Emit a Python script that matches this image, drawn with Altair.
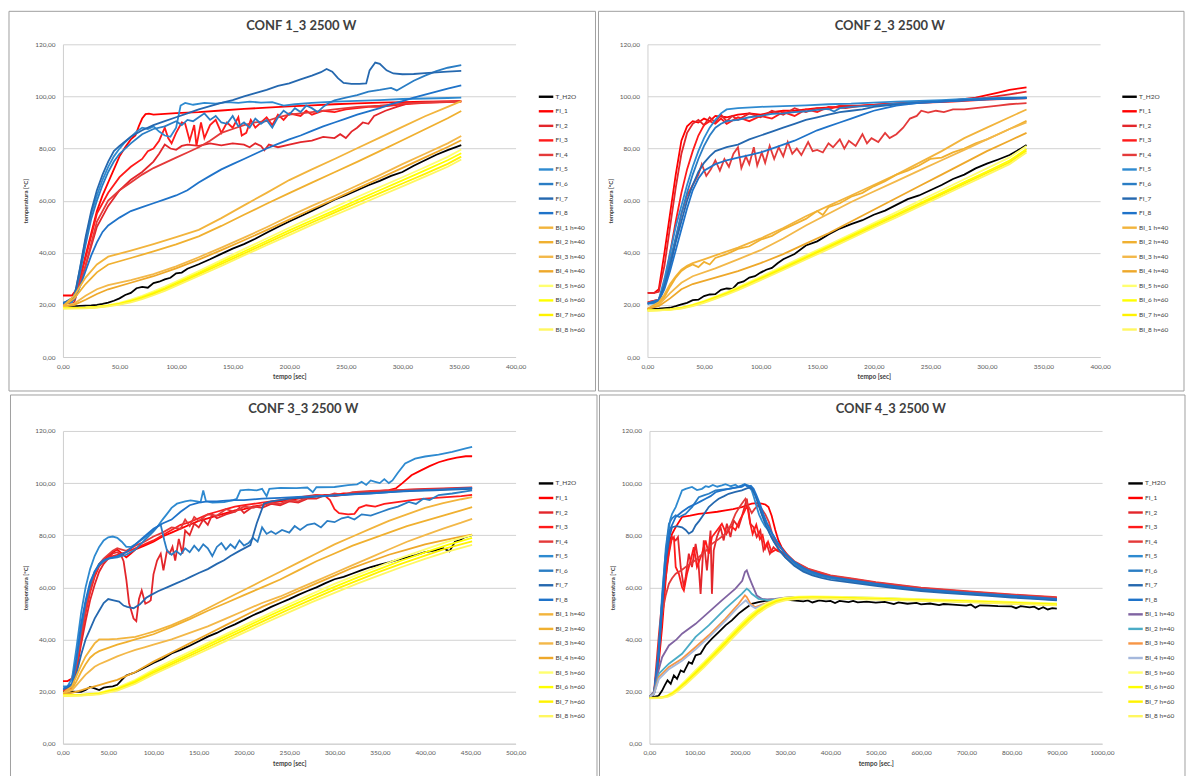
import altair as alt
import pandas as pd

# Series names, in legend / drawing order
SERIES = ["T_H2O", "FI_1", "FI_2", "FI_3", "FI_4", "FI_5", "FI_6", "FI_7", "FI_8",
          "BI_1 h=40", "BI_2 h=40", "BI_3 h=40", "BI_4 h=40",
          "BI_5 h=60", "BI_6 h=60", "BI_7 h=60", "BI_8 h=60"]

COLORS = ["#000000",
          "#FF0000", "#E3262B", "#FF1A1A", "#E43A3A",
          "#2E8AD0", "#2A7DC4", "#2568AF", "#1F73C9",
          "#F2B43C", "#F0B030", "#F3B849", "#EEA82A",
          "#FFFF70", "#FFFF00", "#FFF200", "#FFF760"]

COLORS_4 = ["#000000",
            "#FF0000", "#E3262B", "#FF1A1A", "#E43A3A",
            "#2E8AD0", "#2A7DC4", "#2568AF", "#1F73C9",
            "#8064A2", "#4BACC6", "#F79646", "#A5B8DC",
            "#FFFF70", "#FFFF00", "#FFF200", "#FFF760"]

Y_TICKS = [0, 20, 40, 60, 80, 100, 120]

# ---------------- CONF 1_3 ----------------
G1 = [0, 10, 20, 30, 40, 60, 80, 100, 120, 140, 160, 180, 200, 220, 240, 260, 280, 300, 320, 340, 352]
GY1 = [0, 20, 30, 40, 50, 60, 70, 80, 90, 100, 120, 140, 160, 180, 200, 220, 240, 260, 280, 300, 320, 340, 352]

P1 = {
    "T_H2O": ([0, 5, 10, 15, 20, 25, 30, 35, 40, 45, 50, 55, 60, 65, 70, 75, 80, 85, 90, 95, 100, 105, 110,
               120, 130, 140, 150, 160, 170, 180, 190, 200, 210, 220, 230, 240, 250, 260, 270, 280, 290, 300,
               310, 320, 330, 340, 352],
              [19.6, 19.5, 19.4, 19.6, 19.7, 19.8, 20.0, 20.4, 20.9, 21.6, 22.5, 23.8, 24.6, 26.4, 26.9, 26.6,
               28.4, 28.9, 29.8, 30.4, 32.1, 32.4, 33.9, 35.6, 37.5, 39.6, 41.6, 43.3, 45.4, 47.7, 49.9, 52.0,
               54.0, 56.1, 58.2, 60.4, 62.1, 64.0, 65.9, 67.6, 69.5, 71.0, 73.4, 75.5, 77.6, 79.4, 81.3]),
    "FI_1": ([0, 5, 8, 12, 16, 20, 25, 30, 35, 40, 45, 50, 55, 60, 64, 67, 70, 73, 76, 80, 90, 100, 120, 140,
              160, 180, 200, 220, 240, 260, 280, 300, 320, 340, 352],
             [23.6, 23.6, 23.6, 26.0, 32.0, 39.0, 47.5, 56.0, 62.0, 67.0, 72.0, 77.0, 80.5, 83.5, 85.0, 88.5,
              91.5, 93.2, 93.4, 93.0, 93.3, 93.6, 94.0, 94.6, 95.2, 95.7, 96.2, 96.6, 97.0, 97.3, 97.6, 97.8,
              98.0, 98.1, 98.2]),
    "FI_2": ([0, 10, 20, 30, 40, 50, 60, 70, 80, 85, 90, 95, 100, 105, 110, 120, 130, 140, 150, 160, 165, 170,
              175, 178, 182, 190, 200, 210, 220, 230, 240, 245, 250, 255, 260, 265, 270, 275, 285, 295, 305,
              320, 335, 352],
             [20.3, 21.0, 35.0, 50.0, 58.0, 64.0, 68.0, 71.0, 75.0, 78.0, 81.5, 80.0, 79.5, 81.0, 81.5, 81.0,
              82.0, 81.2, 82.0, 81.5, 80.5, 82.0, 81.0, 79.3, 81.5, 80.5, 81.5, 82.5, 83.0, 84.5, 84.0, 85.5,
              84.0, 86.5, 88.0, 90.0, 89.5, 92.5, 94.5, 96.0, 97.3, 97.8, 98.0, 98.2]),
    "FI_3": ([0, 10, 20, 30, 40, 50, 60, 70, 75, 80, 85, 90, 93, 96, 100, 105, 108, 112, 116, 118, 122, 125,
              130, 135, 140, 145, 150, 155, 158, 162, 166, 170, 175, 180, 185, 190, 195, 200, 210, 215, 220,
              230, 240, 250, 260, 270, 280, 290, 300, 320, 352],
             [20.5, 22.0, 38.0, 55.0, 63.0, 69.0, 73.0, 76.0, 79.0, 80.0, 83.0, 88.0, 84.0, 82.0, 86.0, 90.0,
              89.5, 83.0, 89.0, 81.0, 90.0, 84.0, 89.0, 91.0, 86.0, 90.0, 88.0, 92.0, 85.0, 86.0, 91.0, 88.0,
              90.0, 92.0, 89.0, 93.0, 91.0, 93.5, 92.5, 94.5, 93.0, 94.5, 94.0, 95.0, 95.5, 96.0, 96.0, 96.5,
              97.0, 97.5, 98.0]),
    "FI_4": ([0, 10, 20, 30, 40, 50, 60, 70, 80, 90, 100, 110, 120, 130, 140, 150, 160, 170, 180, 190, 200,
              220, 240, 260, 280, 300, 320, 340, 352],
             [20.0, 22.0, 35.0, 52.0, 60.0, 64.0, 67.0, 70.0, 72.5, 74.5, 76.5, 78.5, 80.5, 83.0, 86.0, 87.5,
              89.0, 90.0, 90.5, 92.0, 93.0, 94.0, 95.0, 96.0, 96.5, 97.2, 97.6, 97.9, 98.0]),
    "FI_5": ([0, 5, 8, 12, 16, 20, 25, 30, 35, 40, 45, 50, 55, 60, 65, 70, 75, 80, 85, 90, 95, 100, 104, 108,
              115, 125, 135, 145, 155, 165, 175, 185, 195, 205, 220, 240, 260, 280, 300, 320, 340, 352],
             [20.9, 20.9, 21.0, 27.0, 36.0, 45.0, 55.0, 62.0, 68.0, 73.0, 77.0, 80.0, 82.5, 84.5, 86.5, 88.0,
              87.5, 88.5, 86.5, 85.0, 84.5, 88.0, 96.5, 97.5, 96.8, 97.5, 97.2, 97.8, 97.5, 98.0, 97.6, 97.8,
              96.5, 97.0, 97.5, 98.0, 98.3, 98.6, 99.0, 99.2, 99.4, 99.5]),
    "FI_6": ([0, 10, 15, 20, 25, 30, 35, 40, 45, 50, 60, 70, 80, 90, 100, 105, 110, 115, 120, 125, 130, 135,
              140, 145, 150, 155, 160, 165, 170, 175, 180, 185, 190, 195, 200, 205, 210, 215, 220, 225, 230,
              235, 240, 250, 260, 270, 280, 290, 295, 300, 310, 320, 330, 340, 352],
             [20.5, 23.0, 32.0, 43.0, 53.0, 60.0, 66.0, 71.0, 75.0, 78.0, 82.0, 85.5, 87.5, 88.5, 90.5, 89.0,
              91.0, 90.5, 92.0, 93.5, 91.0, 92.5, 90.0, 89.5, 92.5, 88.5, 90.0, 88.0, 91.5, 89.5, 91.0, 88.0,
              92.0, 94.5, 93.0, 95.5, 94.0, 96.5, 95.5, 94.0, 96.0, 97.5, 98.5, 99.5, 100.5, 101.8, 102.5,
              103.3, 102.3, 103.5, 106.0, 108.0, 109.7, 111.0, 112.0]),
    "FI_7": ([0, 10, 15, 20, 25, 30, 35, 40, 45, 50, 60, 70, 80, 90, 100, 110, 120, 130, 140, 150, 160, 170,
              180, 190, 200, 210, 220, 228, 233, 238, 243, 248, 255, 262, 268, 271, 276, 280, 286, 292, 300,
              310, 320, 330, 340, 352],
             [20.5, 23.0, 34.0, 46.0, 56.0, 64.0, 70.0, 75.0, 79.0, 81.0, 84.5, 87.0, 89.0, 90.5, 92.0, 93.5,
              95.0, 96.3, 97.5, 98.6, 100.0, 101.3, 102.5, 104.0, 105.0, 106.5, 108.0, 109.3, 110.5, 109.5,
              107.0, 105.2, 104.8, 104.8, 105.0, 110.0, 113.0, 112.5, 110.0, 108.8, 108.5, 108.6, 108.9,
              109.2, 109.5, 109.8]),
    "FI_8": ([0, 5, 10, 15, 20, 25, 30, 35, 40, 50, 60, 70, 80, 90, 100, 110, 120, 130, 140, 150, 160, 170,
              180, 190, 200, 210, 220, 230, 240, 250, 260, 270, 280, 290, 300, 310, 320, 330, 340, 352],
             [20.9, 21.0, 22.0, 27.0, 33.0, 39.0, 44.0, 48.0, 50.5, 53.5, 56.0, 57.5, 59.0, 60.5, 62.0, 64.0,
              67.0, 69.5, 72.0, 74.0, 76.0, 78.0, 80.0, 81.8, 83.5, 85.0, 86.8, 88.5, 90.0, 91.5, 93.0, 94.3,
              95.5, 97.0, 98.2, 99.5, 100.7, 101.8, 103.0, 104.2]),
    "BI_1 h=40": (G1, [19.5, 23.5, 30.5, 35.5, 38.5, 40.8, 43.3, 46.0, 48.8, 53.3, 58.2, 63.0, 67.9, 72.0,
                       76.0, 80.1, 84.2, 88.3, 92.4, 96.0, 98.2]),
    "BI_2 h=40": (G1, [19.4, 22.5, 28.0, 32.5, 35.5, 38.0, 40.5, 43.2, 46.3, 50.3, 54.6, 58.8, 62.9, 66.9,
                       70.9, 74.9, 79.0, 83.2, 87.4, 91.6, 94.4]),
    "BI_3 h=40": (G1, [19.3, 20.5, 23.5, 26.0, 27.6, 29.5, 31.8, 34.8, 38.3, 42.0, 45.8, 49.8, 54.0, 58.0,
                       61.8, 65.8, 69.8, 74.0, 78.0, 82.0, 84.8]),
    "BI_4 h=40": (G1, [19.2, 20.0, 22.0, 24.2, 26.0, 28.5, 31.0, 34.0, 37.4, 41.0, 44.8, 48.7, 52.7, 56.7,
                       60.6, 64.6, 68.6, 72.6, 76.6, 80.6, 83.2]),
    "BI_5 h=60": (GY1, [18.9, 19.0, 19.3, 19.9, 20.8, 22.0, 23.5, 25.2, 27.0, 29.0, 33.0, 37.2, 41.4, 45.5,
                        49.6, 53.6, 57.5, 61.4, 65.2, 69.0, 72.8, 76.8, 79.6]),
    "BI_6 h=60": (GY1, [18.8, 18.9, 19.2, 19.7, 20.5, 21.6, 23.0, 24.6, 26.4, 28.4, 32.3, 36.4, 40.5, 44.5,
                        48.6, 52.5, 56.3, 60.2, 64.0, 67.8, 71.6, 75.5, 78.2]),
    "BI_7 h=60": (GY1, [18.7, 18.8, 19.1, 19.6, 20.3, 21.3, 22.6, 24.2, 25.9, 27.8, 31.7, 35.7, 39.7, 43.7,
                        47.7, 51.6, 55.4, 59.2, 62.9, 66.6, 70.3, 74.1, 76.9]),
    "BI_8 h=60": (GY1, [18.6, 18.7, 19.0, 19.4, 20.1, 21.0, 22.2, 23.7, 25.4, 27.3, 31.1, 35.0, 39.0, 42.9,
                        46.8, 50.7, 54.4, 58.1, 61.8, 65.5, 69.2, 73.0, 75.8]),
}

# ---------------- CONF 2_3 ----------------
GY2 = [0, 10, 20, 30, 40, 50, 60, 70, 80, 100, 120, 140, 160, 180, 200, 220, 240, 260, 280, 300, 320, 335]
GO2 = [0, 10, 15, 20, 25, 30, 35, 40, 50, 60, 80, 100, 120, 140, 160, 180, 200, 220, 240, 260, 280, 300, 320, 335]
GO2B = [0, 10, 20, 30, 40, 60, 80, 100, 120, 140, 160, 180, 200, 220, 240, 260, 280, 300, 320, 335]

P2 = {
    "T_H2O": ([0, 10, 20, 25, 30, 35, 40, 45, 50, 55, 60, 65, 70, 75, 80, 85, 90, 95, 100, 105, 110, 115, 120,
               130, 140, 150, 160, 170, 180, 190, 200, 210, 220, 230, 240, 250, 260, 270, 280, 290, 300, 310,
               320, 330, 335],
              [18.5, 18.6, 18.9, 19.5, 20.2, 20.8, 21.8, 22.0, 23.4, 24.0, 24.1, 25.8, 26.3, 26.1, 28.4, 29.0,
               30.5, 31.0, 32.4, 33.5, 34.2, 36.0, 37.5, 39.5, 42.8, 44.4, 47.0, 49.3, 51.0, 52.5, 54.6, 56.2,
               58.4, 60.6, 62.0, 64.0, 66.0, 68.3, 70.0, 72.4, 74.2, 75.8, 77.5, 80.0, 81.4]),
    "FI_1": ([0, 6, 10, 15, 20, 25, 30, 35, 40, 45, 50, 55, 60, 70, 80, 90, 100, 110, 120, 130, 140, 150, 170,
              190, 210, 230, 250, 270, 290, 300, 310, 320, 335],
             [24.6, 24.6, 26.0, 40.0, 55.0, 70.0, 83.0, 88.5, 90.5, 90.0, 91.5, 90.5, 92.5, 92.0, 93.0, 93.5,
              93.0, 94.0, 94.5, 94.5, 95.0, 95.5, 96.0, 96.5, 97.0, 97.5, 98.0, 98.5, 99.5, 100.5, 101.5,
              102.5, 103.5]),
    "FI_2": ([0, 6, 10, 15, 20, 25, 30, 35, 40, 45, 50, 55, 60, 65, 70, 75, 80, 90, 100, 110, 120, 130, 140,
              150, 160, 170, 190, 210, 230, 250, 270, 290, 300, 320, 335],
             [24.6, 24.6, 25.0, 35.0, 50.0, 65.0, 78.0, 86.0, 89.5, 91.0, 89.0, 92.0, 90.0, 93.0, 90.5, 92.5,
              91.0, 93.5, 92.0, 94.5, 93.0, 95.5, 94.0, 95.5, 95.0, 96.5, 96.5, 97.0, 97.5, 98.0, 98.3, 99.0,
              99.5, 100.8, 101.8]),
    "FI_3": ([0, 10, 15, 20, 25, 30, 35, 40, 45, 50, 55, 60, 65, 70, 80, 90, 100, 110, 120, 130, 140, 150,
              160, 175, 190, 210, 240, 270, 300, 335],
             [21.0, 22.0, 28.0, 40.0, 52.0, 63.0, 72.0, 79.0, 85.0, 89.0, 90.5, 89.5, 91.5, 89.5, 92.0, 90.5,
              92.5, 91.5, 94.0, 92.5, 95.0, 94.0, 96.0, 95.5, 96.5, 97.0, 97.5, 98.0, 98.8, 99.3]),
    "FI_4": ([0, 10, 15, 20, 25, 30, 35, 40, 45, 48, 52, 56, 60, 64, 68, 72, 76, 80, 83, 87, 90, 94, 97, 101,
              104, 108, 112, 116, 120, 124, 128, 132, 136, 142, 146, 150, 155, 160, 164, 170, 174, 178, 184,
              190, 194, 198, 204, 210, 214, 220, 226, 232, 238, 242, 248, 255, 262, 270, 280, 290, 300, 310,
              320, 335],
             [21.0, 22.0, 27.0, 35.0, 45.0, 55.0, 62.0, 66.0, 70.0, 74.0, 69.5, 72.0, 75.5, 71.5, 76.0, 73.0,
              78.0, 80.5, 72.5, 77.0, 74.0, 80.5, 73.5, 78.5, 74.5, 81.0, 76.0, 80.5, 77.0, 82.5, 78.0, 80.0,
              77.5, 82.5, 79.0, 79.5, 78.5, 82.0, 80.5, 83.5, 80.0, 83.0, 81.0, 85.5, 82.0, 84.0, 82.5, 86.0,
              84.0, 85.5, 88.0, 91.5, 92.5, 94.5, 93.8, 94.5, 94.0, 95.0, 95.0, 95.5, 96.0, 96.5, 97.0, 97.4]),
    "FI_5": ([0, 6, 10, 15, 20, 25, 30, 35, 40, 45, 50, 55, 60, 65, 70, 80, 100, 120, 140, 160, 180, 200, 220,
              240, 260, 280, 300, 320, 335],
             [20.5, 20.5, 22.0, 30.0, 40.0, 50.0, 58.0, 66.0, 73.0, 79.0, 84.0, 88.0, 91.0, 93.5, 95.0, 95.5,
              96.0, 96.3, 96.6, 97.0, 97.2, 97.6, 98.0, 98.3, 98.6, 99.0, 99.3, 99.5, 99.6]),
    "FI_6": ([0, 10, 15, 20, 25, 30, 35, 40, 45, 50, 55, 60, 65, 70, 80, 90, 100, 110, 120, 130, 140, 150, 160,
              165, 170, 180, 200, 220, 250, 280, 300, 335],
             [20.5, 22.0, 28.0, 37.0, 46.0, 55.0, 63.0, 70.0, 76.0, 81.0, 85.0, 88.0, 89.5, 90.5, 91.0, 92.0,
              92.5, 93.3, 93.5, 94.0, 94.3, 94.8, 95.2, 94.2, 95.5, 96.0, 96.5, 97.2, 98.0, 98.6, 99.0, 99.4]),
    "FI_7": ([0, 10, 15, 20, 25, 30, 35, 40, 45, 50, 55, 60, 70, 80, 90, 100, 110, 120, 130, 140, 150, 160,
              170, 180, 190, 200, 210, 230, 260, 290, 335],
             [20.5, 21.5, 27.0, 35.0, 44.0, 52.0, 60.0, 66.0, 71.0, 74.5, 77.0, 79.0, 80.5, 81.5, 83.5, 85.0,
              86.5, 88.0, 89.5, 91.0, 92.0, 93.0, 94.0, 94.5, 95.0, 96.0, 96.5, 97.2, 98.0, 98.8, 99.5]),
    "FI_8": ([0, 10, 15, 20, 25, 30, 35, 40, 45, 50, 60, 70, 80, 90, 100, 110, 120, 130, 140, 150, 160, 170,
              180, 190, 200, 210, 220, 240, 260, 290, 335],
             [20.5, 21.5, 26.0, 33.0, 41.0, 49.0, 57.0, 64.0, 68.5, 71.5, 74.0, 75.5, 76.5, 77.5, 78.5, 80.0,
              81.5, 83.0, 85.0, 87.0, 88.5, 90.0, 91.5, 93.0, 94.5, 95.5, 96.5, 97.5, 98.0, 98.7, 99.4]),
    "BI_1 h=40": (GO2, [18.5, 21.0, 24.0, 28.0, 31.0, 33.5, 35.0, 36.0, 37.5, 39.0, 42.0, 45.5, 49.5, 54.0,
                        58.0, 62.0, 66.0, 70.0, 74.5, 79.0, 84.0, 88.0, 92.0, 95.0]),
    "BI_2 h=40": ([0, 10, 15, 20, 25, 30, 35, 40, 45, 50, 55, 60, 70, 80, 90, 100, 110, 120, 130, 140, 150,
                   155, 160, 170, 180, 190, 200, 210, 220, 230, 240, 250, 260, 270, 280, 290, 300, 310, 320, 335],
                  [18.5, 20.5, 23.0, 27.0, 30.5, 33.0, 34.5, 35.5, 34.5, 36.5, 35.5, 38.0, 39.5, 41.5, 42.5,
                   45.0, 46.5, 49.0, 51.0, 53.0, 56.0, 54.5, 57.5, 59.0, 61.5, 63.0, 65.5, 67.5, 70.0, 71.5,
                   73.5, 76.0, 76.5, 78.5, 80.0, 82.0, 83.5, 85.5, 87.5, 90.6]),
    "BI_3 h=40": (GO2B, [18.5, 20.0, 24.5, 28.5, 31.0, 34.0, 37.5, 41.0, 45.5, 50.5, 55.0, 59.5, 63.5, 67.5,
                         71.5, 75.5, 79.5, 83.5, 87.5, 90.0]),
    "BI_4 h=40": (GO2B, [18.5, 19.5, 22.5, 26.0, 28.0, 30.5, 33.0, 36.0, 39.5, 43.5, 47.5, 52.0, 56.5, 61.0,
                         65.5, 70.0, 74.5, 79.0, 83.0, 86.0]),
    "BI_5 h=60": (GY2, [18.0, 18.1, 18.4, 19.0, 20.1, 21.6, 23.2, 24.9, 26.8, 30.8, 34.9, 39.0, 43.1, 47.2,
                        51.4, 55.6, 59.8, 64.0, 68.2, 72.4, 76.6, 81.0]),
    "BI_6 h=60": (GY2, [17.9, 18.0, 18.3, 18.9, 19.9, 21.3, 22.9, 24.5, 26.4, 30.3, 34.3, 38.4, 42.5, 46.6,
                        50.7, 54.8, 58.9, 63.0, 67.1, 71.2, 75.4, 79.8]),
    "BI_7 h=60": (GY2, [17.8, 17.9, 18.2, 18.8, 19.7, 21.1, 22.6, 24.2, 26.0, 29.9, 33.8, 37.9, 42.0, 46.0,
                        50.1, 54.2, 58.3, 62.4, 66.5, 70.6, 74.7, 79.2]),
    "BI_8 h=60": (GY2, [17.8, 17.9, 18.1, 18.6, 19.5, 20.8, 22.3, 23.9, 25.7, 29.5, 33.4, 37.4, 41.4, 45.5,
                        49.6, 53.6, 57.7, 61.7, 65.8, 69.9, 74.0, 78.5]),
}

# ---------------- CONF 3_3 ----------------
GO3 = [0, 10, 15, 20, 25, 30, 35, 40, 50, 60, 70, 80, 90, 100, 120, 140, 160, 180, 200, 220, 240, 260, 280,
       300, 320, 340, 360, 380, 400, 420, 440, 452]
GY3 = [0, 20, 40, 60, 80, 100, 125, 150, 175, 200, 225, 250, 275, 300, 325, 350, 375, 400, 425, 452]

P3 = {
    "T_H2O": ([0, 10, 20, 25, 30, 35, 40, 45, 50, 55, 60, 65, 70, 75, 80, 90, 100, 110, 120, 130, 140, 150,
               160, 170, 180, 190, 200, 210, 220, 230, 240, 250, 260, 270, 280, 290, 300, 310, 320, 330, 340,
               350, 360, 370, 380, 390, 400, 410, 420, 427, 433, 438, 444, 452],
              [20.0, 20.0, 19.9, 20.6, 21.8, 21.2, 20.6, 21.5, 21.8, 22.0, 22.6, 24.5, 26.2, 26.8, 27.4, 29.2,
               31.0, 32.5, 34.6, 36.0, 37.6, 39.3, 41.1, 42.5, 44.3, 45.8, 47.5, 49.3, 50.8, 52.5, 54.0, 55.5,
               57.1, 58.6, 60.0, 61.6, 63.1, 64.0, 65.3, 66.6, 67.8, 68.7, 69.6, 70.6, 71.5, 72.4, 73.5, 74.1,
               75.0, 73.8, 77.5, 78.0, 79.3, 80.0]),
    "FI_1": ([0, 5, 10, 15, 20, 25, 30, 35, 40, 45, 50, 55, 60, 65, 70, 75, 80, 90, 100, 110, 120, 130, 140,
              150, 160, 170, 180, 190, 200, 210, 220, 230, 240, 250, 260, 270, 280, 290, 300, 310, 320, 330,
              340, 350, 360, 368, 375, 385, 395, 405, 415, 425, 435, 445, 452],
             [24.0, 24.0, 25.0, 32.0, 42.0, 52.0, 60.0, 65.0, 68.5, 70.5, 72.0, 73.5, 74.5, 73.0, 71.5, 73.0,
              74.5, 76.0, 77.5, 79.5, 81.0, 82.5, 84.0, 85.5, 86.5, 87.5, 88.5, 89.5, 90.0, 91.0, 91.5, 92.5,
              93.0, 93.5, 94.0, 94.5, 95.0, 95.5, 95.5, 96.0, 96.0, 96.5, 96.5, 97.0, 97.3, 98.0, 100.0, 103.0,
              104.8, 106.5, 108.0, 109.0, 109.8, 110.3, 110.3]),
    "FI_2": ([0, 10, 15, 20, 25, 30, 35, 40, 45, 50, 55, 60, 64, 67, 70, 73, 78, 81, 84, 87, 91, 95, 97, 100,
              104, 108, 111, 115, 118, 121, 124, 128, 132, 135, 140, 145, 150, 155, 160, 165, 170, 180, 190,
              195, 200, 210, 220, 230, 240, 250, 260, 270, 280, 290, 300, 310, 320, 340, 360, 380, 400, 420,
              452],
             [20.5, 21.5, 28.0, 38.0, 47.0, 55.0, 61.0, 66.0, 69.0, 71.0, 73.0, 73.5, 72.5, 70.0, 63.0, 54.0,
              48.0, 47.0, 55.5, 58.8, 53.7, 54.5, 55.0, 65.0, 70.3, 72.9, 66.5, 74.2, 73.0, 75.5, 70.3, 78.6,
              72.9, 81.8, 80.0, 84.5, 83.0, 86.0, 84.0, 88.0, 86.5, 88.0, 89.0, 90.5, 88.5, 91.0, 90.5, 92.0,
              91.5, 93.0, 92.5, 94.0, 94.0, 95.5, 95.0, 95.5, 96.0, 96.5, 97.0, 97.5, 97.8, 98.0, 98.3]),
    "FI_3": ([0, 10, 15, 20, 25, 30, 35, 40, 45, 50, 55, 60, 70, 80, 90, 100, 110, 120, 130, 140, 150, 160,
              170, 180, 190, 200, 210, 220, 230, 240, 250, 260, 270, 280, 290, 295, 300, 305, 315, 322, 327,
              335, 345, 355, 365, 375, 385, 400, 420, 440, 452],
             [20.5, 21.5, 29.0, 40.0, 50.0, 58.0, 64.0, 68.0, 70.0, 71.0, 72.0, 72.5, 73.5, 75.0, 76.5, 78.0,
              80.0, 82.0, 84.0, 85.0, 86.5, 88.0, 89.0, 90.0, 91.0, 91.5, 92.0, 92.5, 93.0, 93.5, 94.0, 94.5,
              95.0, 95.5, 95.0, 93.5, 90.0, 88.5, 88.0, 88.2, 90.5, 91.5, 91.0, 92.0, 92.5, 93.0, 93.5, 94.0,
              94.5, 95.0, 95.5]),
    "FI_4": ([0, 10, 15, 20, 25, 30, 35, 40, 45, 50, 55, 60, 65, 70, 80, 90, 100, 110, 120, 130, 135, 140, 145,
              150, 160, 170, 180, 190, 200, 210, 220, 230, 240, 250, 260, 270, 280, 290, 300, 310, 320, 340,
              360, 380, 400, 420, 452],
             [20.5, 22.0, 30.0, 41.0, 51.0, 59.0, 65.0, 69.0, 71.0, 72.5, 74.0, 75.0, 74.5, 74.0, 76.0, 77.5,
              79.5, 81.0, 83.0, 82.5, 86.0, 83.5, 87.0, 85.5, 88.0, 87.5, 90.0, 89.0, 91.0, 90.5, 91.5, 92.5,
              92.0, 93.5, 93.0, 94.5, 95.5, 95.0, 96.0, 95.5, 96.5, 97.0, 97.2, 97.4, 97.6, 97.8, 98.0]),
    "FI_5": ([0, 5, 10, 15, 20, 25, 30, 35, 40, 45, 50, 55, 60, 65, 70, 75, 80, 90, 100, 105, 110, 115, 120,
              126, 135, 141, 148, 152, 155, 158, 165, 178, 188, 192, 196, 205, 214, 220, 225, 228, 240, 258,
              270, 276, 280, 300, 315, 325, 330, 335, 340, 345, 350, 355, 360, 364, 370, 378, 389, 400, 415,
              430, 445, 452],
             [22.0, 22.0, 25.0, 37.0, 50.0, 60.0, 67.0, 72.0, 75.5, 78.0, 79.2, 79.5, 79.0, 77.5, 75.5, 75.5,
              76.5, 79.0, 82.0, 83.5, 86.0, 88.2, 90.5, 92.1, 93.0, 93.4, 93.0, 92.7, 97.2, 93.0, 92.5, 92.7,
              93.5, 94.0, 97.2, 97.5, 97.2, 97.8, 95.0, 97.8, 98.2, 98.1, 98.3, 96.5, 98.4, 98.5, 99.2, 99.5,
              100.5, 99.3, 101.0, 100.5, 100.0, 101.5, 100.0, 101.0, 104.0, 107.5, 109.4, 110.2, 110.9, 112.0,
              113.3, 113.9]),
    "FI_6": ([0, 10, 15, 20, 25, 30, 35, 40, 45, 50, 60, 70, 80, 90, 100, 105, 108, 112, 115, 120, 125, 130,
              135, 140, 145, 150, 155, 160, 165, 170, 175, 180, 185, 190, 195, 200, 205, 210, 215, 220, 225,
              230, 235, 242, 250, 256, 262, 270, 278, 285, 292, 300, 308, 315, 322, 330, 340, 352, 360, 370,
              382, 390, 398, 405, 415, 430, 445, 452],
             [21.0, 22.5, 32.0, 44.0, 54.0, 61.0, 66.0, 68.5, 70.0, 71.0, 71.5, 72.5, 74.5, 78.0, 81.5, 83.5,
              84.0, 78.0, 74.0, 72.5, 74.0, 72.5, 75.0, 73.5, 76.0, 74.0, 76.5, 75.0, 72.0, 75.5, 77.0, 74.5,
              76.5, 75.0, 78.0, 76.0, 77.0, 79.0, 77.5, 83.0, 80.5, 81.5, 80.5, 82.0, 81.0, 83.5, 82.0, 84.0,
              84.5, 83.0, 85.5, 85.0, 86.5, 87.0, 86.0, 88.0, 87.5, 89.0, 90.0, 91.0, 92.8, 92.0, 94.0, 93.5,
              95.4, 96.0, 96.8, 97.2]),
    "FI_7": ([0, 10, 15, 20, 25, 30, 35, 40, 45, 50, 56, 62, 67, 71, 78, 85, 92, 97, 105, 115, 125, 135, 141,
              150, 160, 170, 178, 185, 195, 207, 214, 222, 230, 240, 250, 270, 290, 310, 330, 350, 370, 390,
              410, 430, 452],
             [21.0, 22.0, 27.0, 34.0, 40.0, 44.0, 48.0, 51.0, 54.0, 55.5, 55.0, 54.5, 53.0, 52.5, 52.0, 53.5,
              56.0, 57.0, 58.5, 60.0, 61.5, 63.0, 64.0, 65.5, 67.0, 69.0, 70.4, 72.0, 74.0, 76.2, 84.5, 92.1,
              93.0, 93.5, 94.0, 94.5, 95.0, 95.5, 96.0, 96.3, 96.7, 97.0, 97.2, 97.5, 97.8]),
    "FI_8": ([0, 10, 15, 20, 25, 30, 35, 40, 45, 50, 60, 70, 80, 90, 100, 110, 120, 130, 140, 150, 160, 170,
              180, 190, 200, 220, 240, 260, 280, 300, 320, 340, 360, 380, 400, 420, 440, 452],
             [21.0, 23.0, 33.0, 46.0, 55.0, 62.0, 66.0, 69.0, 70.5, 71.0, 72.0, 73.5, 76.5, 79.5, 82.5, 84.5,
              86.0, 89.0, 91.5, 92.5, 93.0, 93.0, 93.3, 93.5, 93.5, 94.0, 94.3, 94.7, 95.0, 95.3, 95.7, 96.0,
              96.5, 97.0, 97.3, 97.6, 98.0, 98.2]),
    "BI_1 h=40": (GO3, [19.5, 22.0, 26.0, 30.0, 33.5, 36.0, 38.5, 40.0, 40.0, 40.2, 40.6, 41.0, 42.0, 43.0,
                        45.5, 48.5, 52.0, 55.5, 59.0, 62.5, 66.0, 69.5, 73.0, 76.5, 79.5, 82.5, 85.5, 88.0,
                        90.5, 92.3, 93.8, 94.6]),
    "BI_2 h=40": (GO3, [19.3, 21.0, 24.0, 27.5, 30.5, 33.0, 34.5, 35.5, 36.8, 38.0, 39.0, 40.0, 41.0, 42.0,
                        44.8, 47.8, 51.0, 54.0, 57.0, 60.0, 63.0, 66.5, 70.0, 73.0, 76.0, 78.5, 81.0, 83.5,
                        85.5, 87.5, 89.5, 90.8]),
    "BI_3 h=40": (GO3, [19.3, 20.5, 22.5, 24.5, 26.5, 28.0, 29.5, 30.5, 32.0, 33.5, 34.8, 36.0, 37.0, 38.0,
                        40.0, 42.5, 45.0, 48.0, 51.0, 54.0, 56.5, 59.5, 62.5, 65.5, 68.5, 71.5, 74.5, 77.5,
                        80.0, 82.5, 84.8, 86.3]),
    "BI_4 h=40": (GO3, [19.0, 19.5, 20.0, 20.5, 21.0, 21.5, 22.0, 22.5, 23.5, 24.5, 26.0, 27.5, 29.5, 31.5,
                        35.0, 38.5, 42.0, 45.5, 49.0, 52.5, 55.5, 58.5, 61.5, 64.5, 67.5, 70.0, 72.5, 74.5,
                        76.5, 78.0, 79.5, 80.2]),
    "BI_5 h=60": (GY3, [18.6, 18.8, 19.5, 21.5, 24.5, 28.5, 32.8, 37.0, 41.2, 45.4, 49.5, 53.6, 57.5, 61.3,
                        64.8, 68.2, 71.5, 74.6, 77.5, 80.0]),
    "BI_6 h=60": (GY3, [18.5, 18.7, 19.3, 21.1, 24.0, 27.8, 32.0, 36.2, 40.4, 44.5, 48.6, 52.6, 56.5, 60.2,
                        63.7, 67.1, 70.4, 73.4, 76.3, 79.0]),
    "BI_7 h=60": (GY3, [18.4, 18.6, 19.1, 20.8, 23.5, 27.2, 31.3, 35.4, 39.5, 43.6, 47.6, 51.6, 55.4, 59.1,
                        62.6, 66.0, 69.2, 72.2, 75.1, 77.6]),
    "BI_8 h=60": (GY3, [18.3, 18.5, 18.9, 20.4, 23.0, 26.6, 30.6, 34.6, 38.6, 42.6, 46.6, 50.5, 54.3, 57.9,
                        61.4, 64.7, 67.9, 70.9, 73.7, 76.3]),
}

# ---------------- CONF 4_3 ----------------
GY4 = [0, 20, 30, 40, 50, 60, 80, 100, 120, 140, 160, 180, 200, 220, 240, 260, 280, 300, 330, 360, 400, 500,
       600, 700, 800, 900]

P4 = {
    "T_H2O": ([0, 10, 20, 28, 34, 40, 47, 54, 61, 69, 76, 87, 94, 102, 113, 124, 138, 153, 168, 182, 197, 211,
               226, 241, 255, 270, 285, 300, 340, 350, 360, 375, 390, 400, 410, 420, 440, 450, 460, 480, 500,
               520, 540, 550, 570, 590, 600, 620, 640, 650, 670, 700, 710, 720, 730, 750, 770, 800, 810, 820,
               840, 850, 860, 870, 880, 890, 900],
              [18.0, 18.0, 18.3, 20.4, 22.5, 24.3, 23.0, 26.2, 24.9, 28.1, 27.5, 31.3, 30.7, 33.9, 34.5, 37.7,
               40.3, 42.8, 45.4, 47.3, 49.9, 51.8, 53.7, 54.3, 54.8, 55.0, 55.2, 55.3, 54.6, 55.0, 54.2, 55.0,
               54.6, 54.8, 54.0, 54.8, 54.3, 54.8, 54.2, 54.5, 54.1, 54.4, 53.6, 54.2, 53.7, 54.0, 53.5, 53.8,
               53.2, 53.6, 53.4, 53.0, 53.4, 52.2, 53.1, 53.0, 52.8, 52.7, 52.0, 52.8, 52.3, 52.6, 51.6, 52.4,
               51.5, 52.0, 51.8]),
    "FI_1": ([0, 10, 20, 28, 36, 43, 50, 58, 72, 90, 109, 130, 150, 168, 185, 204, 215, 226, 237, 248, 256, 263,
              270, 278, 285, 292, 300, 314, 330, 351, 380, 400, 424, 450, 500, 550, 600, 650, 700, 750, 800, 850,
              900],
             [18.0, 19.0, 30.0, 44.8, 63.0, 76.7, 80.5, 83.1, 87.0, 87.5, 88.2, 88.6, 89.0, 89.5, 90.0, 90.8,
              91.5, 92.1, 92.3, 92.1, 91.8, 90.8, 87.5, 82.0, 78.0, 75.4, 73.5, 70.3, 68.0, 66.5, 64.8, 64.0,
              63.3, 62.6, 61.4, 60.2, 59.2, 58.5, 57.9, 57.3, 56.7, 56.1, 55.5]),
    "FI_2": ([0, 10, 21, 28, 36, 43, 50, 58, 63, 69, 76, 80, 87, 94, 102, 108, 113, 120, 127, 135, 138, 142,
              149, 157, 164, 171, 179, 186, 197, 204, 212, 215, 223, 230, 237, 245, 252, 259, 266, 274, 282,
              290, 300, 320, 350, 400, 450, 500, 600, 700, 800, 900],
             [18.0, 19.5, 42.2, 55.0, 63.9, 72.9, 79.3, 78.0, 79.3, 67.8, 60.1, 64.0, 72.9, 67.8, 76.7, 70.0,
              57.5, 78.0, 66.5, 81.8, 57.5, 74.2, 79.3, 83.1, 78.0, 84.4, 79.3, 85.7, 83.1, 87.0, 92.1, 94.0,
              84.4, 83.1, 79.3, 81.8, 74.2, 76.7, 72.9, 75.4, 74.0, 73.5, 72.5, 69.5, 66.8, 64.2, 62.9, 61.6,
              59.5, 58.1, 56.9, 55.8]),
    "FI_3": ([0, 10, 20, 28, 36, 47, 54, 58, 65, 72, 76, 83, 91, 98, 105, 116, 124, 131, 138, 149, 160, 170,
              180, 190, 200, 208, 216, 222, 228, 236, 244, 250, 256, 262, 270, 280, 290, 300, 320, 350, 400,
              450, 500, 600, 700, 800, 900],
             [18.0, 19.0, 35.0, 50.0, 66.0, 78.0, 79.3, 67.8, 65.2, 60.1, 58.8, 65.2, 70.3, 75.4, 67.8, 72.9,
              78.0, 72.9, 79.3, 81.8, 84.4, 80.5, 83.5, 82.0, 86.0, 88.5, 91.5, 85.0, 80.5, 84.0, 78.5, 80.0,
              75.0, 77.5, 73.5, 74.5, 73.8, 72.8, 69.8, 67.0, 64.4, 63.1, 61.8, 59.7, 58.3, 57.1, 56.0]),
    "FI_4": ([0, 10, 20, 28, 36, 43, 50, 58, 70, 80, 95, 109, 125, 138, 153, 168, 180, 190, 198, 204, 212, 219,
              226, 232, 240, 248, 256, 264, 272, 280, 290, 300, 320, 350, 400, 450, 500, 600, 700, 800, 900],
             [18.0, 19.0, 32.0, 49.9, 57.0, 61.4, 63.5, 65.2, 66.5, 67.8, 69.5, 71.6, 74.0, 76.7, 78.5, 80.6,
              84.0, 88.2, 90.5, 92.1, 94.0, 91.0, 88.5, 90.0, 91.5, 90.0, 88.0, 85.0, 80.0, 77.0, 75.0, 73.3,
              70.0, 67.2, 64.6, 63.3, 62.0, 59.9, 58.5, 57.3, 56.2]),
    "FI_5": ([0, 10, 14, 20, 28, 34, 40, 46, 50, 58, 65, 72, 80, 94, 105, 116, 124, 131, 140, 150, 160, 168,
              180, 190, 196, 204, 210, 215, 219, 226, 231, 237, 242, 248, 255, 263, 270, 278, 290, 300, 318,
              336, 360, 380, 400, 424, 450, 500, 550, 600, 650, 700, 750, 800, 850, 900],
             [18.0, 19.0, 21.7, 34.0, 57.5, 70.0, 79.3, 86.0, 88.2, 90.8, 94.0, 97.2, 97.8, 98.5, 97.3, 97.8,
              98.8, 98.5, 99.3, 98.6, 99.1, 99.6, 98.8, 99.4, 98.6, 99.1, 99.6, 98.9, 98.7, 97.2, 94.5, 90.8,
              88.0, 85.7, 83.5, 81.8, 79.0, 76.7, 73.5, 71.6, 68.8, 66.8, 65.2, 64.2, 63.5, 62.9, 62.2, 61.0,
              59.8, 58.9, 58.2, 57.6, 57.0, 56.4, 55.8, 55.2]),
    "FI_6": ([0, 10, 20, 28, 36, 43, 50, 58, 66, 80, 94, 109, 120, 131, 146, 160, 175, 190, 204, 212, 220, 226,
              232, 240, 248, 256, 265, 275, 285, 300, 320, 340, 360, 380, 400, 450, 500, 550, 600, 650, 700,
              750, 800, 850, 900],
             [18.0, 19.5, 35.0, 55.0, 75.0, 84.4, 86.5, 87.6, 87.0, 88.2, 90.8, 94.6, 95.3, 95.9, 97.2, 97.5,
              97.8, 98.3, 98.5, 99.5, 99.0, 98.2, 96.0, 92.5, 88.5, 85.5, 82.5, 79.5, 76.5, 72.8, 69.3, 66.9,
              65.4, 64.4, 63.6, 62.3, 61.1, 59.9, 59.0, 58.3, 57.7, 57.1, 56.5, 55.9, 55.3]),
    "FI_7": ([0, 10, 20, 28, 36, 45, 50, 60, 72, 80, 87, 95, 102, 110, 116, 124, 131, 142, 153, 165, 175, 190,
              204, 215, 222, 228, 235, 242, 250, 258, 266, 275, 285, 300, 320, 340, 360, 380, 400, 450, 500,
              550, 600, 650, 700, 750, 800, 850, 900],
             [18.0, 19.0, 33.0, 52.0, 70.0, 80.0, 83.1, 83.5, 83.0, 82.0, 80.6, 81.5, 83.8, 85.5, 87.0, 89.0,
              90.8, 92.5, 94.0, 95.0, 95.9, 96.6, 97.2, 98.0, 98.3, 97.5, 95.0, 91.0, 87.0, 83.5, 80.5, 77.5,
              74.8, 71.5, 68.3, 66.0, 64.6, 63.6, 62.9, 61.7, 60.6, 59.5, 58.6, 57.9, 57.3, 56.7, 56.1, 55.6,
              55.0]),
    "FI_8": ([0, 10, 20, 28, 36, 45, 58, 72, 87, 102, 113, 124, 135, 146, 160, 175, 190, 204, 212, 218, 224,
              230, 236, 244, 252, 260, 270, 280, 290, 300, 320, 340, 360, 380, 400, 450, 500, 550, 600, 650,
              700, 750, 800, 850, 900],
             [18.0, 19.2, 34.0, 54.0, 72.0, 82.0, 87.0, 89.0, 90.8, 92.0, 93.0, 94.0, 95.0, 96.5, 97.2, 97.8,
              98.3, 98.8, 99.3, 98.6, 99.0, 97.8, 95.5, 92.0, 88.0, 84.5, 81.0, 78.0, 75.5, 73.0, 69.8, 67.5,
              65.9, 64.8, 64.0, 62.7, 61.4, 60.3, 59.3, 58.6, 58.0, 57.4, 56.8, 56.2, 55.6]),
    "BI_1 h=40": ([0, 10, 14, 20, 28, 43, 60, 72, 102, 131, 160, 190, 205, 211, 215, 220, 226, 237, 248, 260,
                   278, 300, 315, 350, 400, 500, 600, 700, 800, 900],
                  [18.0, 20.0, 23.0, 28.0, 33.2, 37.7, 40.0, 42.2, 46.0, 50.5, 55.0, 59.5, 62.5, 65.9, 66.5,
                   64.0, 61.4, 56.9, 55.6, 55.4, 55.6, 56.0, 56.3, 56.3, 56.2, 55.8, 55.2, 54.6, 54.0, 53.3]),
    "BI_2 h=40": ([0, 10, 21, 43, 72, 102, 131, 168, 204, 215, 220, 226, 241, 263, 300, 350, 400, 500, 600,
                   700, 800, 900],
                  [18.0, 19.5, 26.9, 30.7, 34.5, 41.0, 45.4, 51.8, 57.5, 59.5, 58.8, 57.5, 55.6, 55.0, 55.8,
                   56.2, 56.2, 55.9, 55.3, 54.7, 54.1, 53.5]),
    "BI_3 h=40": ([0, 10, 21, 43, 72, 102, 131, 168, 197, 211, 215, 223, 234, 250, 280, 300, 350, 400, 500,
                   600, 700, 800, 900],
                  [18.0, 19.2, 25.6, 29.4, 32.6, 37.1, 41.6, 48.0, 53.7, 56.9, 56.3, 53.7, 52.4, 53.5, 55.0,
                   55.6, 56.0, 56.0, 55.7, 55.1, 54.5, 53.9, 53.3]),
    "BI_4 h=40": ([0, 10, 21, 43, 72, 102, 131, 168, 197, 213, 222, 234, 250, 280, 300, 350, 400, 500, 600,
                   700, 800, 900],
                  [18.0, 19.0, 24.8, 28.6, 31.8, 36.2, 40.8, 47.2, 52.6, 55.0, 53.2, 52.0, 53.2, 54.8, 55.4,
                   55.8, 55.8, 55.5, 55.0, 54.4, 53.8, 53.2]),
    "BI_5 h=60": (GY4, [17.6, 17.8, 18.0, 18.6, 19.6, 21.0, 24.3, 27.8, 31.2, 34.8, 38.4, 42.0, 45.6, 49.0,
                        51.8, 53.9, 55.3, 56.0, 56.4, 56.5, 56.4, 56.0, 55.5, 55.0, 54.4, 53.8]),
    "BI_6 h=60": (GY4, [17.5, 17.7, 17.9, 18.4, 19.3, 20.6, 23.7, 27.1, 30.5, 34.0, 37.6, 41.2, 44.8, 48.2,
                        51.1, 53.3, 54.8, 55.6, 56.1, 56.2, 56.1, 55.7, 55.2, 54.7, 54.1, 53.5]),
    "BI_7 h=60": (GY4, [17.5, 17.6, 17.8, 18.2, 19.0, 20.2, 23.2, 26.5, 29.8, 33.3, 36.9, 40.5, 44.1, 47.5,
                        50.5, 52.8, 54.4, 55.3, 55.8, 56.0, 55.9, 55.5, 55.0, 54.5, 53.9, 53.3]),
    "BI_8 h=60": (GY4, [17.4, 17.5, 17.7, 18.0, 18.7, 19.8, 22.7, 25.9, 29.2, 32.7, 36.2, 39.8, 43.4, 46.8,
                        49.9, 52.3, 54.0, 55.0, 55.6, 55.8, 55.7, 55.3, 54.8, 54.3, 53.7, 53.1]),
}

FONT = "Lato"
COMMA = "replace(format(datum.value, '.2f'), '.', ',')"
PLOT_W, PLOT_H = 453, 313


def long_table(data):
    rows = []
    for name in SERIES:
        times, temps = data[name]
        for t, v in zip(times, temps):
            rows.append({"serie": name, "tempo": t, "temp": v})
    return pd.DataFrame(rows)


def panel(data, title, xmax, xstep, xtitle, colors, box, legend_xy, title_dx):
    x_axis = alt.Axis(values=list(range(0, xmax + 1, xstep)), labelExpr=COMMA, title=xtitle,
                      grid=False, ticks=False, domainColor="#cfcfcf", labelOverlap=False, labelFlush=False,
                      labelFont=FONT, labelFontSize=6.5, labelColor="#595959", labelPadding=6,
                      titleFont=FONT, titleFontSize=6.5, titleFontWeight="bold",
                      titleColor="#404040", titlePadding=4)
    y_axis = alt.Axis(values=Y_TICKS, labelExpr=COMMA, title="temperatura [°C]", labelFlush=False,
                      grid=True, gridColor="#d2d2d2", ticks=False, domainColor="#cfcfcf",
                      labelFont=FONT, labelFontSize=6.5, labelColor="#595959", labelPadding=8,
                      titleFont=FONT, titleFontSize=6, titleFontWeight="bold",
                      titleColor="#404040", titlePadding=6)
    legend = alt.Legend(orient="none", legendX=legend_xy[0], legendY=legend_xy[1], title=None,
                        symbolType="stroke", symbolSize=210, symbolStrokeWidth=2.4, rowPadding=0.56,
                        labelFont=FONT, labelFontSize=6.5, labelColor="#404040", labelOffset=1,
                        symbolLimit=0)
    lines = alt.Chart(long_table(data)).mark_line(strokeWidth=1.8, clip=True).encode(
        x=alt.X("tempo:Q", scale=alt.Scale(domain=[0, xmax], nice=False), axis=x_axis),
        y=alt.Y("temp:Q", scale=alt.Scale(domain=[0, 120], nice=False), axis=y_axis),
        color=alt.Color("serie:N", scale=alt.Scale(domain=SERIES, range=colors), legend=legend),
    )
    frame = alt.Chart(pd.DataFrame({"k": [0]})).mark_rect(
        fill="white", fillOpacity=0, stroke="#a0a0a0", strokeWidth=1
    ).encode(x=alt.value(box[0]), x2=alt.value(box[1]), y=alt.value(box[2]), y2=alt.value(box[3]))
    return alt.layer(frame, lines).properties(
        width=PLOT_W, height=PLOT_H,
        title=alt.TitleParams(title, font=FONT, fontSize=13, fontWeight="bold", color="#404040",
                              anchor="middle", offset=0, dx=title_dx, dy=22),
    )


p1 = panel(P1, "CONF 1_3 2500 W", 400, 50, "tempo [sec]", COLORS, (-54, 533, -33, 347), (475, 44), 12)
p2 = panel(P2, "CONF 2_3 2500 W", 400, 50, "tempo [sec]", COLORS, (-49, 537, -33, 347), (474, 44), 16)
p3 = panel(P3, "CONF 3_3 2500 W", 500, 50, "tempo [sec]", COLORS, (-52.5, 534.5, -36, 347), (475, 44), 14)
p4 = panel(P4, "CONF 4_3 2500 W", 1000, 100, "tempo [sec.]", COLORS_4, (-50, 536, -36, 347), (478, 44), 15)

row1 = alt.hconcat(p1, p2, spacing=1).resolve_scale(color="independent")
row2 = alt.hconcat(p3, p4, spacing=1).resolve_scale(color="independent")

chart = alt.vconcat(row1, row2, spacing=2).resolve_scale(color="independent").properties(
    padding={"left": 8, "top": 10, "right": 0, "bottom": 0},
    background="white",
).configure_view(strokeWidth=0)

chart.save("out.html", embed_options={"renderer": "svg", "actions": False})
